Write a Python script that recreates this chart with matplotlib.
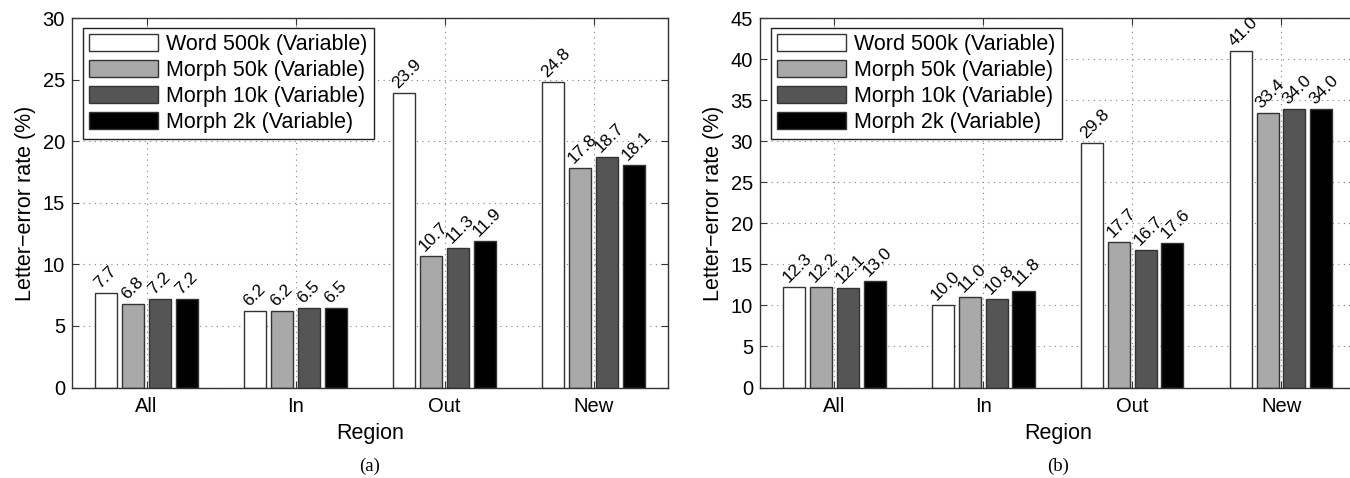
import matplotlib
matplotlib.use("Agg")
import matplotlib.pyplot as plt
from matplotlib.patches import Rectangle
from matplotlib.legend_handler import HandlerPatch
import numpy as np

regions = ["All", "In", "Out", "New"]
series_names = ["Word 500k (Variable)", "Morph 50k (Variable)",
                "Morph 10k (Variable)", "Morph 2k (Variable)"]
colors = ["#ffffff", "#a9a9a9", "#555555", "#000000"]

# panel (a)
word500k_a = [7.7, 6.2, 23.9, 24.8]
morph50k_a = [6.8, 6.2, 10.7, 17.8]
morph10k_a = [7.2, 6.5, 11.3, 18.7]
morph2k_a = [7.2, 6.5, 11.9, 18.1]

# panel (b)
word500k_b = [12.3, 10.0, 29.8, 41.0]
morph50k_b = [12.2, 11.0, 17.7, 33.4]
morph10k_b = [12.1, 10.8, 16.7, 34.0]
morph2k_b = [13.0, 11.8, 17.6, 34.0]

yticks_a = [0, 5, 10, 15, 20, 25, 30]
yticks_b = [0, 5, 10, 15, 20, 25, 30, 35, 40, 45]

plt.rcParams['font.family'] = ['Liberation Sans', 'DejaVu Sans']

fig = plt.figure(figsize=(13.5, 4.78), dpi=100)

W, H = 1350.0, 478.0
ax_top = 18.3
ax_bot = 387.5


def make_axes(left_px, right_px):
    return fig.add_axes([left_px / W, 1 - ax_bot / H,
                         (right_px - left_px) / W, (ax_bot - ax_top) / H])


def padded_rect(legend, orig_handle, xdescent, ydescent, width, height, fontsize):
    pad = 4.7
    return Rectangle((-xdescent + pad, -ydescent), width - pad, height)


def draw(ax, data, yticks, caption):
    x = np.arange(1, len(regions) + 1)
    n = len(data)
    step = 0.18
    width = 0.148
    for i, (vals, c, name) in enumerate(zip(data, colors, series_names)):
        off = (i - (n - 1) / 2) * step
        ax.bar(x + off, vals, width, color=c, edgecolor="#333333",
               linewidth=1.0, label=name, zorder=2)
        for xi, v in zip(x + off, vals):
            ax.annotate(f"{v:.1f}", (xi, v), xytext=(-6, 4),
                        textcoords="offset pixels", rotation=45,
                        rotation_mode="anchor", ha="left", va="baseline",
                        fontsize=12.5, zorder=3)
    ax.set_xlim(0.5, 4.5)
    ax.set_ylim(yticks[0], yticks[-1])
    ax.set_xticks(x)
    ax.set_xticklabels(regions)
    ax.set_yticks(yticks)
    ax.tick_params(direction="in", length=5, width=0.8, top=True, right=True,
                   labelsize=14.5, color="#333333")
    ax.tick_params(axis="x", pad=7)
    ax.tick_params(axis="y", pad=5)
    ax.grid(True, linestyle=(0, (1, 4)), color="#808080", linewidth=0.8)
    ax.set_axisbelow(True)
    for s in ax.spines.values():
        s.set_color("#333333")
        s.set_linewidth(1.0)
    ax.set_xlabel("Region", fontsize=15.5, labelpad=5)
    ax.set_ylabel("Letter\u2212error rate (%)", fontsize=15.5, labelpad=5)
    leg = ax.legend(loc="upper left", bbox_to_anchor=(0.018, 0.974),
                    borderaxespad=0, fontsize=15.5, fancybox=False,
                    framealpha=1, edgecolor="#222222", handlelength=3.19,
                    handleheight=0.84, labelspacing=0.22, handletextpad=0.37,
                    borderpad=0.3,
                    handler_map={Rectangle: HandlerPatch(patch_func=padded_rect)})
    leg.get_frame().set_linewidth(1.0)
    ax.text(0.5, -0.19, caption, transform=ax.transAxes, ha="center",
            va="top", fontsize=13.5, family=["Liberation Serif"])


ax1 = make_axes(72, 668)
draw(ax1, [word500k_a, morph50k_a, morph10k_a, morph2k_a], yticks_a, "(a)")
ax2 = make_axes(760, 1355.5)
draw(ax2, [word500k_b, morph50k_b, morph10k_b, morph2k_b], yticks_b, "(b)")

fig.savefig("out.png", dpi=100)
